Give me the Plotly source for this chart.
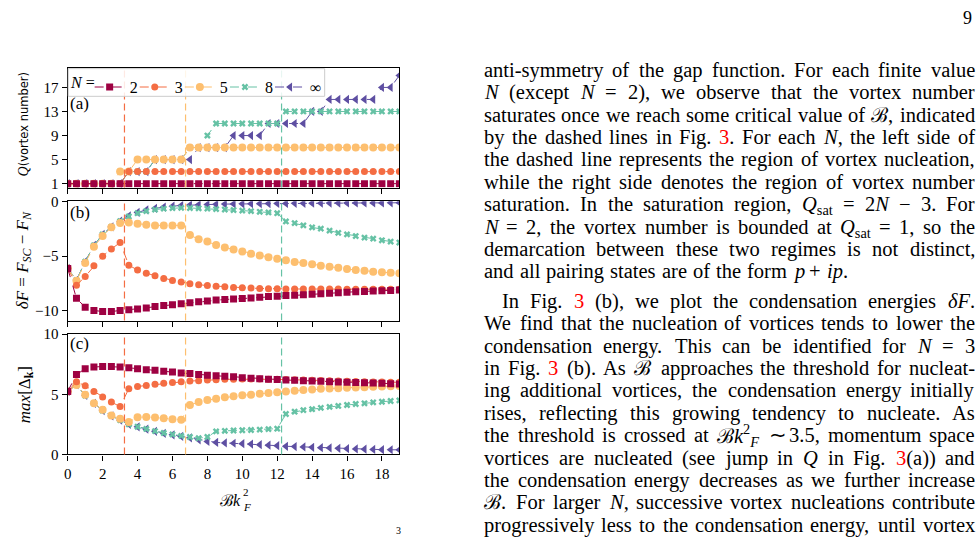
import re
import plotly.graph_objects as go

# ---------------- data ----------------
B = [0, 0.5, 1, 1.5, 2, 2.5, 3, 3.5, 4, 4.5, 5, 5.5, 6, 6.5, 7, 7.5, 8, 8.5, 9, 9.5,
     10, 10.5, 11, 11.5, 12, 12.5, 13, 13.5, 14, 14.5, 15, 15.5, 16, 16.5, 17, 17.5, 18, 18.5, 19]

series_names = ["2", "3", "5", "8", "∞"]
colors = ["#9e0142", "#f46d43", "#fdbf6f", "#66c2a5", "#5e4fa2"]
symbols = ["square", "circle", "circle", "x", "triangle-left"]
sizes = [7, 7, 8, 6, 8]

Q2 = [1]*39
Q3 = [1, 1, 1, 1, 1, 1, 1, 3, 3, 3, 3, 3, 3, 3, 3, 3, 3, 3, 3, 3, 3, 3, 3, 3, 3, 3, 3, 3, 3, 3, 3, 3, 3, 3, 3, 3, 3, 3, 3]
Q5 = [1, 1, 1, 1, 1, 1, 3, 3, 5, 5, 5, 5, 5, 5, 7, 7, 7, 7, 7, 7, 7, 7, 7, 7, 7, 7, 7, 7, 7, 7, 7, 7, 7, 7, 7, 7, 7, 7, 7]
Q8 = [1, 1, 1, 1, 1, 1, 1, 3, 3, 3, 5, 5, 5, 5, 7, 7, 9, 11, 11, 11, 11, 11, 11, 11, 11, 13, 13, 13, 13, 13, 13, 13, 13, 13, 13, 13, 13, 13, 13]
Qinf = [1, 1, 1, 1, 1, 1, 1, 3, 3, 3, 5, 5, 5, 5, 5, 7, 7, 7, 7, 9, 9, 9, 9, 11, 11, 11, 11, 11, 13, 13, 15, 15, 15, 15, 15, 15, 17, 17, 19]

dF2 = [-6.13, -8.88, -9.70, -10.0, -10.09, -10.09, -10.0, -9.94, -9.85, -9.76, -9.64, -9.55, -9.46, -9.37,
       -9.28, -9.20, -9.13, -9.04, -8.98, -8.95, -8.90, -8.84, -8.78, -8.72, -8.69, -8.63, -8.60, -8.54,
       -8.51, -8.45, -8.42, -8.36, -8.33, -8.27, -8.24, -8.21, -8.18, -8.15, -8.12]
dF3 = [-6.13, -7.68, -6.87, -5.89, -5.0, -4.34, -3.75, -5.83, -6.28, -6.57, -6.81, -7.05, -7.23, -7.38,
       -7.53, -7.62, -7.71, -7.77, -7.82, -7.88, -7.91, -7.94, -7.97, -8.0, -8.0, -8.01, -8.02, -8.02,
       -8.03, -8.03, -8.03, -8.03, -8.04, -8.04, -8.04, -8.04, -8.05, -8.05, -8.05]
dF5 = [-6.13, -7.26, -5.62, -4.13, -3.15, -2.35, -1.96, -1.90, -2.02, -2.11, -2.17, -2.17, -2.17, -2.17,
       -3.06, -3.45, -3.66, -3.98, -4.20, -4.38, -4.58, -4.79, -4.94, -5.09, -5.23, -5.38, -5.54, -5.63,
       -5.74, -5.89, -5.98, -6.07, -6.19, -6.28, -6.34, -6.43, -6.49, -6.52, -6.57]
dF8 = [-6.13, -7.20, -5.50, -4.00, -3.00, -2.30, -1.78, -1.35, -1.05, -0.85, -0.72, -0.63, -0.58, -0.56,
       -0.57, -0.60, -0.63, -0.67, -0.71, -0.76, -0.81, -0.86, -0.92, -0.98, -1.05, -1.81, -1.96, -2.17,
       -2.35, -2.47, -2.65, -2.86, -3.00, -3.15, -3.30, -3.39, -3.54, -3.66, -3.75]
dFinf = [-6.13, -7.20, -5.50, -4.00, -3.00, -2.30, -1.78, -1.30, -0.98, -0.75, -0.60, -0.48, -0.40, -0.34,
         -0.30, -0.27, -0.25, -0.23, -0.21, -0.20, -0.19, -0.18, -0.17, -0.16, -0.15, -0.15, -0.14, -0.14,
         -0.13, -0.13, -0.12, -0.12, -0.11, -0.11, -0.10, -0.10, -0.10, -0.09, -0.09]

D2 = [5.24, 6.64, 7.12, 7.26, 7.31, 7.31, 7.26, 7.20, 7.12, 7.04, 6.99, 6.91, 6.85, 6.77, 6.72, 6.64,
      6.59, 6.53, 6.50, 6.45, 6.38, 6.33, 6.28, 6.25, 6.23, 6.18, 6.16, 6.13, 6.10, 6.08, 6.05, 6.02,
      6.00, 5.97, 5.95, 5.93, 5.91, 5.88, 5.86]
D3 = [5.24, 6.05, 5.70, 5.24, 4.78, 4.35, 3.98, 5.46, 5.65, 5.73, 5.83, 5.91, 5.97, 6.05, 6.10, 6.13,
      6.18, 6.20, 6.24, 6.25, 6.26, 6.26, 6.26, 6.25, 6.24, 6.22, 6.20, 6.18, 6.16, 6.14, 6.12, 6.10,
      6.08, 6.06, 6.05, 6.03, 6.02, 6.00, 5.99]
D5 = [5.24, 5.78, 4.97, 4.25, 3.71, 3.23, 2.96, 2.70, 3.09, 3.12, 3.07, 3.00, 2.92, 2.88, 4.11, 4.35,
      4.52, 4.62, 4.76, 4.84, 4.92, 4.97, 5.05, 5.11, 5.16, 5.24, 5.30, 5.35, 5.40, 5.46, 5.48, 5.51,
      5.54, 5.57, 5.59, 5.62, 5.65, 5.67, 5.68]
D8 = [5.24, 5.80, 4.90, 4.25, 3.65, 3.20, 2.85, 2.50, 2.30, 2.12, 1.94, 1.78, 1.66, 1.54, 1.45, 1.35,
      1.45, 1.92, 1.96, 1.99, 2.01, 2.03, 2.06, 2.10, 2.14, 3.36, 3.55, 3.68, 3.76, 3.87, 3.95, 4.03,
      4.11, 4.19, 4.25, 4.33, 4.38, 4.44, 4.49]
Dinf = [5.24, 5.80, 4.90, 4.25, 3.65, 3.20, 2.85, 2.50, 2.30, 2.10, 1.92, 1.76, 1.63, 1.50, 1.38, 1.22,
        1.08, 1.00, 0.96, 0.93, 0.89, 0.86, 0.81, 0.77, 0.73, 0.68, 0.65, 0.62, 0.59, 0.56, 0.54, 0.51,
        0.48, 0.46, 0.44, 0.42, 0.40, 0.39, 0.38]

Q_all = [Q2, Q3, Q5, Q8, Qinf]
dF_all = [dF2, dF3, dF5, dF8, dFinf]
D_all = [D2, D3, D5, D8, Dinf]

crit_B = [3.25, 6.75, 12.25]
crit_colors = ["#f46d43", "#fdbf6f", "#66c2a5"]

x_ticks = [0, 2, 4, 6, 8, 10, 12, 14, 16, 18]
qa_ticks = [1, 5, 9, 13, 17]
qb_ticks = [0, -5, -10]
qc_ticks = [0, 5, 10]

# body text of the page ({R3} = red figure reference)
page_par_1 = [
    "anti-symmetry of the gap function. For each finite value",
    "<i>N</i> (except <i>N</i> = 2), we observe that the vortex number",
    "saturates once we reach some critical value of ℬ, indicated",
    "by the dashed lines in Fig. {R3}. For each <i>N</i>, the left side of",
    "the dashed line represents the region of vortex nucleation,",
    "while the right side denotes the region of vortex number",
    "saturation. In the saturation region, <i>Q</i><sub>sat</sub> = 2<i>N</i> − 3. For",
    "<i>N</i> = 2, the vortex number is bounded at <i>Q</i><sub>sat</sub> = 1, so the",
    "demarcation between these two regimes is not distinct,",
    "and all pairing states are of the form <i>p</i> + <i>ip</i>.",
]
page_par_2 = [
    "In Fig. {R3} (b), we plot the condensation energies <i>δF</i>.",
    "We find that the nucleation of vortices tends to lower the",
    "condensation energy. This can be identified for <i>N</i> = 3",
    "in Fig. {R3} (b). As ℬ approaches the threshold for nucleat-",
    "ing additional vortices, the condensation energy initially",
    "rises, reflecting this growing tendency to nucleate. As",
    "the threshold is crossed at ℬ<i>k</i><sup>2</sup><sub><i>F</i></sub> ∼ 3.5, momentum space",
    "vortices are nucleated (see jump in <i>Q</i> in Fig. {R3}(a)) and",
    "the condensation energy decreases as we further increase",
    "ℬ. For larger <i>N</i>, successive vortex nucleations contribute",
    "progressively less to the condensation energy, until vortex",
]

# ---------------- helpers ----------------
W, H = 980, 543
SERIF = "Liberation Serif, Times New Roman, serif"


def px_x(p):
    return p / W


def px_y(p):
    return 1 - p / H


# Times (Liberation Serif metric-compatible) advance widths /1000 em
ROM = {" ": 250, "!": 333, ",": 250, "-": 333, ".": 250, "(": 333, ")": 333, ":": 278, ";": 278,
       "=": 564, "+": 564, "−": 564, "∼": 560, "ℬ": 900, "δ": 500, "Δ": 612}
for ch in "0123456789":
    ROM[ch] = 500
for ch, w in zip("ABCDEFGHIJKLMNOPQRSTUVWXYZ",
                 [722, 667, 667, 722, 611, 556, 722, 722, 333, 389, 722, 611, 889, 722, 722, 556,
                  722, 667, 556, 611, 722, 722, 944, 722, 722, 611]):
    ROM[ch] = w
for ch, w in zip("abcdefghijklmnopqrstuvwxyz",
                 [444, 500, 444, 500, 444, 333, 500, 500, 278, 278, 500, 278, 778, 500, 500, 500,
                  500, 333, 389, 278, 500, 500, 722, 500, 500, 444]):
    ROM[ch] = w
ITA = {"N": 667, "Q": 722, "F": 611, "p": 500, "i": 278, "k": 444, "δ": 500}


def est_width(html, size):
    total = 0.0
    italic = False
    small = 0
    for tok in re.split(r"(<[^>]+>)", html):
        if tok.startswith("<"):
            t = tok.lower()
            if t.startswith("<i"):
                italic = True
            elif t.startswith("</i"):
                italic = False
            elif t.startswith("<sub") or t.startswith("<sup"):
                small += 1
            elif t.startswith("</sub") or t.startswith("</sup"):
                small -= 1
            continue
        for ch in tok:
            w = ITA.get(ch, ROM.get(ch, 500)) if italic else ROM.get(ch, 500)
            total += w * (0.7 if small else 1.0)
    return total / 1000.0 * size


RED3 = "<span style='color:#ff0000'>3</span>"

fig = go.Figure()

panels = [("x", "y", Q_all), ("x2", "y2", dF_all), ("x3", "y3", D_all)]
order = [4, 3, 2, 1, 0]  # draw N=inf first so N=2 sits on top
for pi, (xa, ya, data) in enumerate(panels):
    for i in order:
        fig.add_trace(go.Scatter(
            x=B, y=data[i], xaxis=xa, yaxis=ya,
            mode="lines+markers",
            name=series_names[i],
            showlegend=(pi == 0),
            legendwidth=(16 if i == 4 else 0.1),
            line=dict(color=colors[i], width=1.0, dash="dash"),
            marker=dict(symbol=symbols[i], size=sizes[i], color=colors[i], line=dict(width=0)),
        ))

xdom = [px_x(64), px_x(397)]
ydoms = [[px_y(185), px_y(62)], [px_y(322), px_y(199)], [px_y(460), px_y(336)]]

axis_common = dict(showline=True, mirror=True, linecolor="black", linewidth=1.3,
                   ticks="outside", ticklen=5, tickwidth=1.1, tickcolor="black",
                   showgrid=False, zeroline=False,
                   tickfont=dict(family=SERIF, size=15, color="black"))

fig.update_layout(
    xaxis=dict(domain=xdom, anchor="y", range=[0, 19], tickvals=x_ticks,
               showticklabels=False, **axis_common),
    xaxis2=dict(domain=xdom, anchor="y2", range=[0, 19], tickvals=x_ticks,
                showticklabels=False, matches="x", **axis_common),
    xaxis3=dict(domain=xdom, anchor="y3", range=[0, 19], tickvals=x_ticks,
                matches="x", **axis_common),
    yaxis=dict(domain=ydoms[0], anchor="x", range=[0.35, 20.2], tickvals=qa_ticks, **axis_common),
    yaxis2=dict(domain=ydoms[1], anchor="x2", range=[-10.92, 0.06], tickvals=qb_ticks, **axis_common),
    yaxis3=dict(domain=ydoms[2], anchor="x3", range=[0, 10], tickvals=qc_ticks, **axis_common),
)

shapes = []
for xa, ya in [("x", "y"), ("x2", "y2"), ("x3", "y3")]:
    for b, c in zip(crit_B, crit_colors):
        shapes.append(dict(type="line", xref=xa, yref=ya + " domain", x0=b, x1=b, y0=0, y1=1,
                           line=dict(color=c, width=1.2, dash="7px,4px"), layer="above"))
# legend frame
shapes.append(dict(type="rect", xref="paper", yref="paper",
                   x0=px_x(64.5), x1=px_x(322), y0=px_y(91), y1=px_y(62.5),
                   fillcolor="rgba(255,255,255,0.85)", line=dict(color="#cccccc", width=1),
                   layer="above"))
fig.update_layout(shapes=shapes)

ann = []


def add_text(text, x, y, size, xanchor="center", yanchor="middle", angle=0, family=SERIF, yshift=0):
    ann.append(dict(text=text, x=px_x(x), y=px_y(y), xref="paper", yref="paper",
                    xanchor=xanchor, yanchor=yanchor, textangle=angle, showarrow=False,
                    borderpad=0, borderwidth=0, yshift=yshift,
                    font=dict(family=family, size=size, color="black")))


# legend prefix
add_text("<i>N</i> =", 66, 77, 16, xanchor="left")
# panel labels
for lab, yy in [("(a)", 98), ("(b)", 211), ("(c)", 346)]:
    add_text(lab, 66, yy, 17, xanchor="left")
# y titles
add_text("<i>Q</i><span style='font-family:DejaVu Sans;font-size:11.5px'>(vortex number)</span>",
         20, 120, 14, angle=-90)
add_text("<i>δF</i> = <i>F</i><sub><i>SC</i></sub> − <i>F</i><sub><i>N</i></sub>", 20, 260, 17, angle=-90)
add_text("<i>max</i>[Δ<sub><b>k</b></sub>]", 22, 398, 17, angle=-90)
# x title
add_text("ℬ<i>k</i>", 227, 507, 16)
add_text("2", 243, 499, 11)
add_text("<i>F</i>", 244, 514, 11)
# page number and footnote mark
add_text("9", 967, 10, 18)
add_text("3", 396, 538, 10)

# body text, justified word by word
TXT = 20.5
L, R = 482, 975


def place_line(line, y_center, left, justify):
    words = [w.replace("{R3}", RED3) for w in line.split(" ")]
    widths = [est_width(w, TXT) for w in words]
    if justify and len(words) > 1:
        gap = (R - left - sum(widths)) / (len(words) - 1)
    else:
        gap = TXT * 0.3
    xpos = left
    top = y_center - 13.6
    for j, (w, wd) in enumerate(zip(words, widths)):
        ysh = 3 if "<sup>" in w else 0
        if justify and j == len(words) - 1:
            add_text(w, R, top, TXT, xanchor="right", yanchor="top", yshift=ysh)
        else:
            add_text(w, xpos, top, TXT, xanchor="left", yanchor="top", yshift=ysh)
        xpos += wd + gap


for k, line in enumerate(page_par_1):
    place_line(line, 66 + 23.07 * k, L, justify=(k < len(page_par_1) - 1))
for k, line in enumerate(page_par_2):
    place_line(line, 304 + 23.07 * k, L + 18 if k == 0 else L, justify=True)

fig.update_layout(
    annotations=ann,
    width=W, height=H,
    margin=dict(l=0, r=0, t=0, b=0),
    paper_bgcolor="white", plot_bgcolor="white",
    legend=dict(orientation="h", x=px_x(86), y=px_y(64), xanchor="left", yanchor="top",
                traceorder="reversed",
                font=dict(family=SERIF, size=16, color="black"),
                bgcolor="rgba(0,0,0,0)", borderwidth=0, itemwidth=30),
    showlegend=True,
)

fig.write_html("out.html")
